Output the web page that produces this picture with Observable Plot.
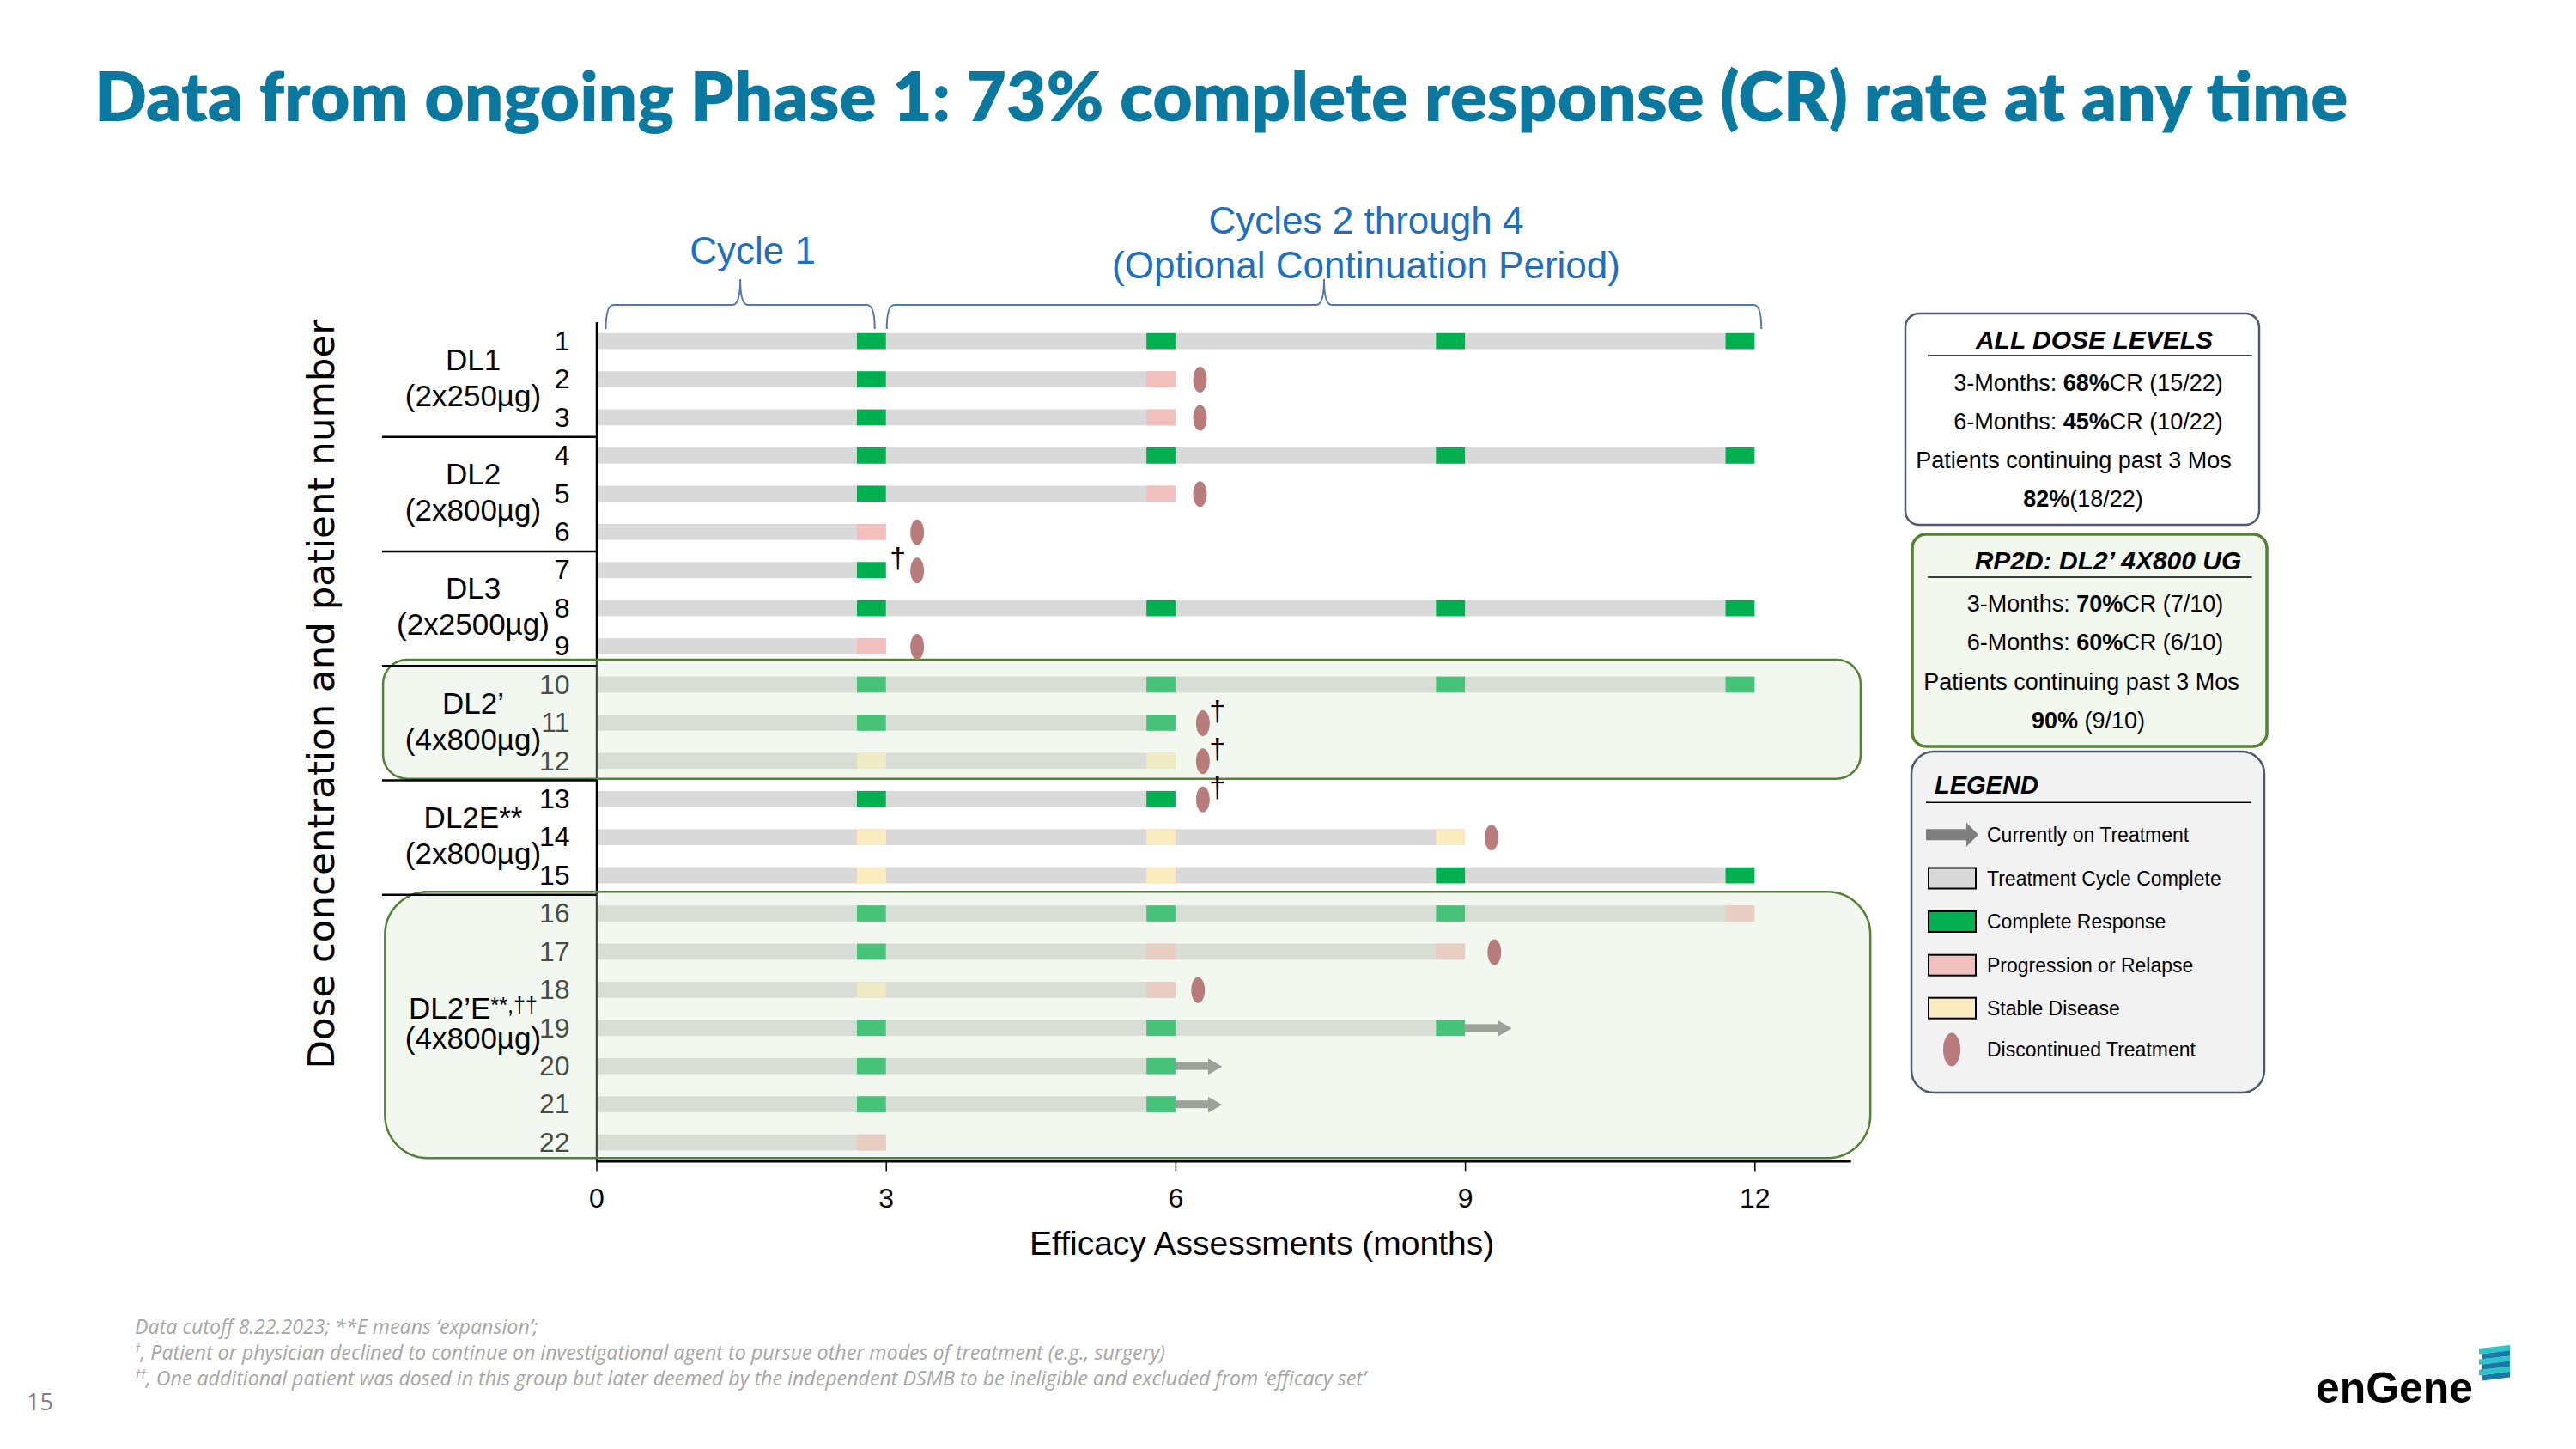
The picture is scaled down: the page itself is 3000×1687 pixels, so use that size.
<!DOCTYPE html>
<html>
<head>
<meta charset="utf-8">
<script src="https://cdn.jsdelivr.net/npm/d3@7"></script>
<script src="https://cdn.jsdelivr.net/npm/@observablehq/plot@0.6"></script>
<style>
  html, body { margin: 0; padding: 0; background: #fff; }
  #page { position: relative; width: 3000px; height: 1687px; overflow: hidden; background: #fff; }
  #chart { position: absolute; left: 0; top: 180px; width: 2200px; }
  #chart svg { max-width: none; }
  #decor { position: absolute; left: 0; top: 0; pointer-events: none; }
</style>
</head>
<body>
<div id="page">
  <div id="chart"></div>
  <svg id="decor" width="3000" height="1687"></svg>
</div>
<script>
// ---------------- DATA ----------------
const titleText = "Data from ongoing Phase 1: 73% complete response (CR) rate at any time";
const patientIds = [1,2,3,4,5,6,7,8,9,10,11,12,13,14,15,16,17,18,19,20,21,22];
const lastAssessment = [12,6,6,12,6,3,3,12,3,12,6,6,6,9,12,12,9,6,9,6,6,3];
const assessmentMonths = [3,6,9,12];
const month3  = ["CR","CR","CR","CR","CR","PR","CR","CR","PR","CR","CR","SD","CR","SD","SD","CR","CR","SD","CR","CR","CR","PR"];
const month6  = ["CR","PR","PR","CR","PR",null,null,"CR",null,"CR","CR","SD","CR","SD","SD","CR","PR","PR","CR","CR","CR",null];
const month9  = ["CR",null,null,"CR",null,null,null,"CR",null,"CR",null,null,null,"SD","CR","CR","PR",null,"CR",null,null,null];
const month12 = ["CR",null,null,"CR",null,null,null,"CR",null,"CR",null,null,null,null,"CR","PR",null,null,null,null,null,null];
const discontinuedMonth = [null,6.25,6.25,null,6.25,3.32,3.32,null,3.32,null,6.28,6.28,6.28,9.27,null,null,9.3,6.23,null,null,null,null];
const declinedMonth = [null,null,null,null,null,null,3.12,null,null,null,6.43,6.43,6.43,null,null,null,null,null,null,null,null,null];
const onTreatmentTo = [null,null,null,null,null,null,null,null,null,null,null,null,null,null,null,null,null,null,9.48,6.48,6.48,null];

const statusCodes = ["CR","PR","SD"];
const statusColors = ["#00b050","#f0bfbe","#fbecbf"];
const cycleColor = "#d9d9d9";
const arrowColor = "#7f7f7f";
const ovalColor = "#b97c7c";

const groupNames = ["DL1","DL2","DL3","DL2’","DL2E**","DL2’E**,††"];
const groupDoses = ["(2x250µg)","(2x800µg)","(2x2500µg)","(4x800µg)","(2x800µg)","(4x800µg)"];
const groupFirst = [1,4,7,10,13,16];
const groupLast = [3,6,9,12,15,22];
const rp2dGroups = ["DL2’","DL2’E**,††"];

const cycleLabels = ["Cycle 1","Cycles 2 through 4\n(Optional Continuation Period)"];
const cycleStart = [0,3];
const cycleEnd = [3,12];

const xTicks = [0,3,6,9,12];
const xDomain = [0,13];
const yDomain = [0.5,22.48];
const xLabel = "Efficacy Assessments (months)";
const yLabel = "Dose concentration and patient number";

const summaryTitles = ["ALL DOSE LEVELS","RP2D: DL2’ 4X800 UG"];
const summaryLines = [
  [[["3-Months: ",0],["68%",1],["CR (15/22)",0]],
   [["6-Months: ",0],["45%",1],["CR (10/22)",0]],
   [["Patients continuing past 3 Mos",0]],
   [["82%",1],["(18/22)",0]]],
  [[["3-Months: ",0],["70%",1],["CR (7/10)",0]],
   [["6-Months: ",0],["60%",1],["CR (6/10)",0]],
   [["Patients continuing past 3 Mos",0]],
   [["90% ",1],["(9/10)",0]]]
];
const legendTitle = "LEGEND";
const legendLabels = ["Currently on Treatment","Treatment Cycle Complete","Complete Response","Progression or Relapse","Stable Disease","Discontinued Treatment"];
const footnotes = [
  ["", "Data cutoff 8.22.2023; **E means ‘expansion’;"],
  ["†", ", Patient or physician declined to continue on investigational agent to pursue other modes of treatment (e.g., surgery)"],
  ["††", ", One additional patient was dosed in this group but later deemed by the independent DSMB to be ineligible and excluded from ‘efficacy set’"]
];
const pageNumber = "15";
const logoText = "enGene";

// ---------------- TABLES ----------------
const rows = patientIds.map((id, i) => ({id, last: lastAssessment[i]}));
const assess = [];
[month3, month6, month9, month12].forEach((arr, k) => arr.forEach((s, i) => {
  if (s) assess.push({id: patientIds[i], month: assessmentMonths[k], status: s});
}));
const discontinued = patientIds.map((id, i) => ({id, x: discontinuedMonth[i]})).filter(d => d.x != null);
const declined = patientIds.map((id, i) => ({id, x: declinedMonth[i]})).filter(d => d.x != null);
const onTreatment = patientIds.map((id, i) => ({id, last: lastAssessment[i], to: onTreatmentTo[i]})).filter(d => d.to != null);
const groups = groupNames.map((name, i) => ({name, dose: groupDoses[i], first: groupFirst[i], last: groupLast[i]}));
const separators = groupLast.slice(0, -1).map(d => d + 0.5);
const cycles = cycleLabels.map((label, i) => ({label, start: cycleStart[i], end: cycleEnd[i]}));
const rp2d = groups.filter(g => rp2dGroups.includes(g.name));

// ellipse symbol for discontinued treatment
const ellipse = {
  draw(ctx, size) {
    const r = Math.sqrt(size / Math.PI), rx = r * 0.53, ry = r, k = 0.5523;
    ctx.moveTo(rx, 0);
    ctx.bezierCurveTo(rx, k * ry, k * rx, ry, 0, ry);
    ctx.bezierCurveTo(-k * rx, ry, -rx, k * ry, -rx, 0);
    ctx.bezierCurveTo(-rx, -k * ry, -k * rx, -ry, 0, -ry);
    ctx.bezierCurveTo(k * rx, -ry, rx, -k * ry, rx, 0);
    ctx.closePath();
  }
};

// braces above the timeline
const braceInsets = [[11, -13], [1, 8]];
function braces(index, scales, values, dimensions) {
  const g = d3.create("svg:g").attr("fill", "none").attr("stroke", "#5577b0").attr("stroke-width", 2);
  const top = dimensions.marginTop;
  cycles.forEach((c, i) => {
    const x1 = scales.x(c.start) + braceInsets[i][0];
    const x2 = scales.x(c.end) + braceInsets[i][1];
    const cx = (x1 + x2) / 2;
    const yl = top - 20, yb = top + 8, yt = top - 50, r = 9;
    g.append("path").attr("d",
      `M${x1},${yb} Q${x1},${yl} ${x1 + r},${yl} L${cx - r},${yl} Q${cx},${yl} ${cx},${yt} Q${cx},${yl} ${cx + r},${yl} L${x2 - r},${yl} Q${x2},${yl} ${x2},${yb}`);
  });
  return g.node();
}

const overlays = rp2d.map((g, k) => Plot.rect([g], {
  x1: k ? -2.19 : -2.21,
  x2: k ? 13.2 : 13.1,
  y1: d => d.first - (k ? 0.57 : 0.65),
  y2: d => d.last + (k ? 0.41 : 0.47),
  fill: "#d7e9cd", fillOpacity: 0.33,
  stroke: "#548235", strokeWidth: 2.5,
  rx: k ? 50 : 28
}));

const chart = Plot.plot({
  width: 2200, height: 1320,
  marginLeft: 694.5, marginRight: 44.3, marginTop: 194.9, marginBottom: 148.6,
  x: {domain: xDomain},
  y: {domain: yDomain, reverse: true},
  color: {domain: statusCodes, range: statusColors},
  style: {fontFamily: "'Liberation Sans', Arial, sans-serif", background: "transparent", color: "#000"},
  marks: [
    Plot.rect(rows, {x1: 0, x2: "last", y1: d => d.id - 0.21, y2: d => d.id + 0.21, fill: cycleColor}),
    Plot.rect(assess, {x1: d => d.month - 0.3, x2: "month", y1: d => d.id - 0.21, y2: d => d.id + 0.21, fill: "status"}),
    Plot.rect(onTreatment, {x1: "last", x2: "to", y1: d => d.id - 0.1, y2: d => d.id + 0.1, fill: arrowColor, insetRight: 12}),
    Plot.dot(onTreatment, {x: "to", y: "id", symbol: "triangle", rotate: 90, r: 7, fill: arrowColor, stroke: "none", dx: -10.9}),
    Plot.ruleX([xDomain[0]], {y1: yDomain[0], y2: yDomain[1], stroke: "#000", strokeWidth: 2.5}),
    Plot.axisY({ticks: patientIds, tickSize: 0, tickPadding: 31.5, fontSize: 32, label: null, anchor: "left"}),
    ...overlays,
    Plot.dot(discontinued, {x: "x", y: "id", symbol: ellipse, r: 15, fill: ovalColor, stroke: "none"}),
    Plot.text(declined, {x: "x", y: "id", text: () => "†", dy: -14, fontSize: 34, fill: "#000"}),
    Plot.text(groups, {x: 0, y: d => (d.first + d.last) / 2 - 0.08, text: d => d.name + "\n" + d.dose, dx: -144, fontSize: 35, lineHeight: 1.2, fill: "#000", textAnchor: "middle"}),
    Plot.ruleY(separators, {x1: -2.22, x2: 0, stroke: "#000", strokeWidth: 2.5}),
    Plot.ruleY([yDomain[1]], {x1: xDomain[0], x2: xDomain[1], stroke: "#000", strokeWidth: 3}),
    Plot.axisX({ticks: xTicks, tickSize: 12, tickPadding: 19.7, fontSize: 32, label: null, strokeWidth: 1.5}),
    Plot.text([xLabel], {frameAnchor: "bottom", dx: 44, dy: 109.5, fontSize: 39, fill: "#000", textAnchor: "middle"}),
    Plot.text([yLabel], {frameAnchor: "left", rotate: -90, textAnchor: "middle", dx: -320.3, dy: -55.5, fontSize: 43.5, fontFamily: "'DejaVu Sans', sans-serif", fill: "#000"}),
    braces,
    Plot.text(cycles.slice(0, 1), {x: d => (d.start + d.end) / 2, text: "label", frameAnchor: "top", lineAnchor: "bottom", dx: 13, dy: -68.9, fontSize: 44, fill: "#1f6fbf"}),
    Plot.text(cycles.slice(1), {x: d => (d.start + d.end) / 2, text: "label", frameAnchor: "top", lineAnchor: "bottom", lineHeight: 1.17, dx: 53, dy: -51.9, fontSize: 44, fill: "#1f6fbf"})
  ]
});
document.getElementById("chart").appendChild(chart);

// raise the footnote markers (**,††) of the DL2’E group label, as in the reference
d3.select(chart).selectAll("text, tspan").each(function () {
  if (this.childElementCount) return;
  const s = this.textContent;
  const m = s.match(/^(DL2’E)(\*\*,††)$/);
  if (!m) return;
  const el = d3.select(this);
  el.text(null);
  el.append("tspan").text(m[1]);
  el.append("tspan").attr("font-size", "0.72em").attr("dy", "-0.3em").text(m[2]);
});

// ---------------- DECOR (title, summary boxes, legend, notes) ----------------
const decor = d3.select("#decor");
const sans = "'Liberation Sans', Arial, sans-serif";
function fit(node, target) {
  const l = node.getComputedTextLength();
  const fs = parseFloat(node.getAttribute("font-size"));
  const nfs = fs * target / l;
  node.setAttribute("font-size", nfs);
  return nfs;
}

const title = decor.append("text").attr("x", 110).attr("y", 140.7)
  .attr("font-family", "Lato, 'Open Sans', sans-serif").attr("font-weight", 800)
  .attr("font-size", 70).attr("fill", "#0a789f").text(titleText);
fit(title.node(), 2625);

// summary boxes
const boxGeo = [
  {x: 2219, y: 365, w: 412, h: 246, fill: "#ffffff", stroke: "#4d5a6e", sw: 2.5, rx: 16,
   tx: 2439, ty: 405.7, ly: 414, cx: [2432, 2432, 2415, 2426], by: [454.7, 500, 545, 590]},
  {x: 2227, y: 622, w: 413, h: 247, fill: "#f3f8ef", stroke: "#548235", sw: 3.5, rx: 16,
   tx: 2455, ty: 662.5, ly: 672, cx: [2440, 2440, 2424, 2432], by: [711.5, 757, 802.7, 848]}
];
boxGeo.forEach((b, i) => {
  decor.append("rect").attr("x", b.x).attr("y", b.y).attr("width", b.w).attr("height", b.h)
    .attr("rx", b.rx).attr("fill", b.fill).attr("stroke", b.stroke).attr("stroke-width", b.sw);
  decor.append("text").attr("x", b.tx).attr("y", b.ty).attr("text-anchor", "middle")
    .attr("font-family", sans).attr("font-size", 30).attr("font-weight", 700).attr("font-style", "italic")
    .text(summaryTitles[i]);
  decor.append("line").attr("x1", 2245).attr("x2", 2622.7).attr("y1", b.ly).attr("y2", b.ly)
    .attr("stroke", "#000").attr("stroke-width", 1.5);
  summaryLines[i].forEach((segs, j) => {
    const t = decor.append("text").attr("x", b.cx[j]).attr("y", b.by[j]).attr("text-anchor", "middle")
      .attr("font-family", sans).attr("font-size", 27).attr("fill", "#000");
    segs.forEach(([s, bold]) => t.append("tspan").attr("font-weight", bold ? 700 : 400).text(s));
  });
});

// legend box
decor.append("rect").attr("x", 2226).attr("y", 875).attr("width", 411).attr("height", 397)
  .attr("rx", 26).attr("fill", "#f2f2f2").attr("stroke", "#4d5a6e").attr("stroke-width", 2.5);
decor.append("text").attr("x", 2253).attr("y", 924).attr("font-family", sans).attr("font-size", 29)
  .attr("font-weight", 700).attr("font-style", "italic").text(legendTitle);
decor.append("line").attr("x1", 2243).attr("x2", 2621.7).attr("y1", 934.3).attr("y2", 934.3)
  .attr("stroke", "#000").attr("stroke-width", 1.5);
const legendY = [971.7, 1022.5, 1073, 1123.7, 1173.7, 1222];
const swatchFill = [null, cycleColor, statusColors[0], statusColors[1], statusColors[2], null];
legendLabels.forEach((label, i) => {
  const cy = legendY[i];
  if (i === 0) {
    decor.append("path").attr("fill", arrowColor)
      .attr("d", `M2243,${cy - 6.5} L2290,${cy - 6.5} L2290,${cy - 14} L2304,${cy} L2290,${cy + 14} L2290,${cy + 6.5} L2243,${cy + 6.5} Z`);
  } else if (i === legendLabels.length - 1) {
    decor.append("ellipse").attr("cx", 2273).attr("cy", cy).attr("rx", 10).attr("ry", 19.5).attr("fill", ovalColor);
  } else {
    decor.append("rect").attr("x", 2246).attr("y", cy - 12).attr("width", 55).attr("height", 24)
      .attr("fill", swatchFill[i]).attr("stroke", "#000").attr("stroke-width", 2);
  }
  decor.append("text").attr("x", 2314).attr("y", cy + 8.3).attr("font-family", sans)
    .attr("font-size", 23).attr("fill", "#000").text(label);
});

// footnotes
const footY = [1553, 1583, 1613];
const footNodes = footnotes.map(([sup, txt], i) => {
  const t = decor.append("text").attr("x", 157).attr("y", footY[i])
    .attr("font-family", "'Open Sans', sans-serif").attr("font-style", "italic")
    .attr("font-size", 21).attr("fill", "#a6a6a6");
  if (sup) t.append("tspan").attr("font-size", "0.6em").attr("dy", -8).text(sup);
  t.append("tspan").attr("dy", sup ? 8 : 0).text(txt);
  return t.node();
});
const fnSize = fit(footNodes[2], 1435);
footNodes.forEach(n => n.setAttribute("font-size", fnSize));

// page number
decor.append("text").attr("x", 31).attr("y", 1641.7).attr("font-family", "'Open Sans', sans-serif")
  .attr("font-size", 27).attr("fill", "#7f7f7f").text(pageNumber);

// logo
const logo = decor.append("text").attr("x", 2697).attr("y", 1633).attr("font-family", sans)
  .attr("font-weight", 700).attr("font-size", 49.6).attr("fill", "#000").text(logoText);
fit(logo.node(), 183);
const stripeColors = ["#2cc4c8", "#1a77a8", "#2cc4c8", "#1a77a8", "#2cc4c8", "#1a77a8"];
stripeColors.forEach((c, i) => {
  const y = 1566 + i * 6.2;
  const x0 = i % 2 ? 2891 : 2887;
  decor.append("path").attr("fill", c)
    .attr("d", `M${x0},${y + 4} L2923,${y} L2923,${y + 6.4} L${x0},${y + 10.4} Z`);
});
</script>
</body>
</html>
